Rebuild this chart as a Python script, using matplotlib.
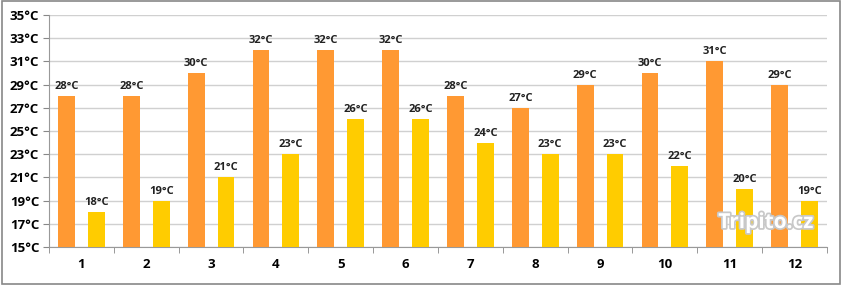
import numpy as np
import matplotlib.pyplot as plt
import matplotlib.patheffects as pe
from matplotlib.patches import Rectangle

months = ['1', '2', '3', '4', '5', '6', '7', '8', '9', '10', '11', '12']
high = [28, 28, 30, 32, 32, 32, 28, 27, 29, 30, 31, 29]
low = [18, 19, 21, 23, 26, 26, 24, 23, 23, 22, 20, 19]
yticks = [15, 17, 19, 21, 23, 25, 27, 29, 31, 33, 35]

plt.rcParams['font.family'] = ['Open Sans', 'DejaVu Sans']

fig = plt.figure(figsize=(8.42, 2.85), dpi=100)
ax = fig.add_axes([49 / 842, 1 - 247 / 285, 778 / 842, 232 / 285])

x = np.arange(len(months))
w = 0.26
off = 0.23
ax.bar(x - off, np.array(high) - 15, w, bottom=15, color='#FF9933', zorder=3)
ax.bar(x + off, np.array(low) - 15, w, bottom=15, color='#FFCC00', zorder=3)

for xi, v in zip(x, high):
    ax.text(xi - off, v + 0.35, f'{v}°C', ha='center', va='bottom',
            fontsize=8, fontweight='bold', color='#222222', zorder=4)
for xi, v in zip(x, low):
    ax.text(xi + off, v + 0.35, f'{v}°C', ha='center', va='bottom',
            fontsize=8, fontweight='bold', color='#222222', zorder=4)

ax.set_xlim(-0.5, len(months) - 0.5)
ax.set_ylim(15, 35)
ax.set_yticks(yticks)
ax.set_yticklabels([f'{t}°C' for t in yticks], fontsize=9.5, fontweight='bold')
ax.set_xticks(x)
ax.set_xticklabels(months, fontsize=9.5, fontweight='bold')
ax.set_xticks(np.arange(len(months) + 1) - 0.5, minor=True)
ax.tick_params(axis='x', which='major', length=0, pad=8)
ax.tick_params(axis='x', which='minor', length=4, color='#888888')
ax.tick_params(axis='y', length=4, color='#888888', pad=3)
ax.grid(axis='y', color='#D0D0D0', linewidth=1, zorder=0)

for s in ['top', 'right']:
    ax.spines[s].set_visible(False)
for s in ['left', 'bottom']:
    ax.spines[s].set_color('#999999')

ax.text(0.983, 0.06, 'Tripito.cz', transform=ax.transAxes, ha='right', va='bottom',
        fontsize=15, fontweight='bold', color='white', zorder=5,
        path_effects=[pe.withStroke(linewidth=2.5, foreground='#C8C8C8')])

fig.patches.append(Rectangle((0.002, 0.004), 0.996, 0.992, transform=fig.transFigure,
                             fill=False, edgecolor='#888888', linewidth=1.2))

fig.savefig('out.png', dpi=100)
